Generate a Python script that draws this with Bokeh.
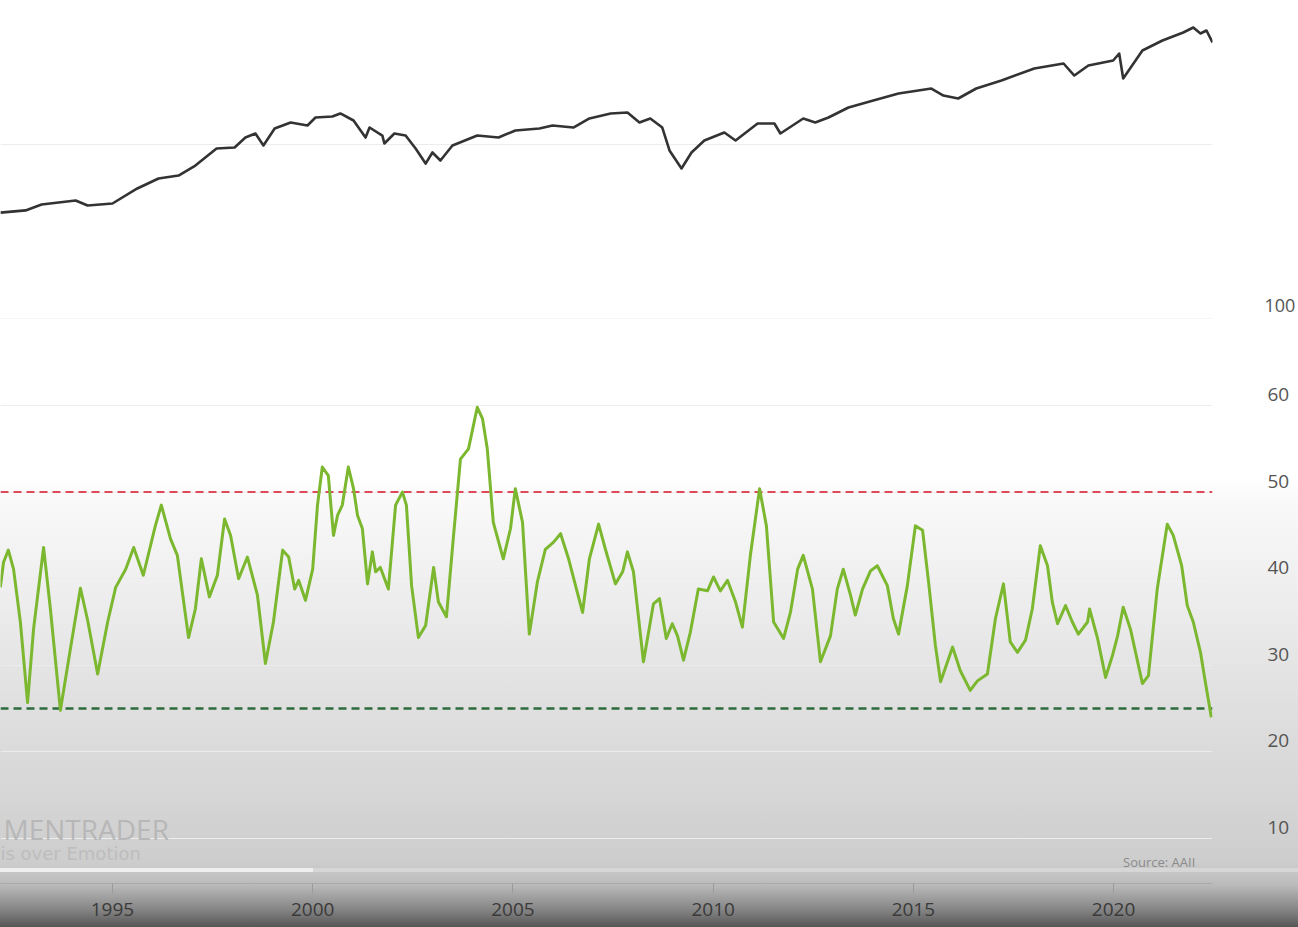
from bokeh.plotting import figure
from bokeh.models import (Range1d, LinearAxis, LogScale, FixedTicker,
                          BasicTickFormatter, Span, Label)
from bokeh.layouts import column
from bokeh.embed import file_html
from bokeh.resources import INLINE

# ---------------- data ----------------
spx_year = [
    1992.20, 1992.83, 1993.23, 1994.08, 1994.38, 1995.00, 1995.62, 1996.15, 1996.65, 1997.07,
    1997.60, 1998.05, 1998.32, 1998.57, 1998.77, 1999.05, 1999.45, 1999.87, 2000.07, 2000.49,
    2000.69, 2001.02, 2001.32, 2001.42, 2001.74, 2001.79, 2002.04, 2002.32, 2002.57, 2002.82,
    2002.99, 2003.19, 2003.49, 2004.11, 2004.64, 2005.06, 2005.66, 2005.99, 2006.51, 2006.91,
    2007.44, 2007.86, 2008.16, 2008.43, 2008.73, 2008.91, 2009.21, 2009.46, 2009.78, 2010.28,
    2010.56, 2011.11, 2011.53, 2011.68, 2012.25, 2012.55, 2012.88, 2013.38, 2014.00, 2014.63,
    2015.45, 2015.75, 2016.12, 2016.57, 2017.20, 2018.02, 2018.75, 2019.02, 2019.37, 2019.99,
    2020.14, 2020.24, 2020.72, 2021.22, 2021.74, 2021.99, 2022.17, 2022.32, 2022.47]
spx_value = [
    406, 418, 452, 477, 446, 458, 559, 638, 663, 757,
    948, 961, 1097, 1157, 987, 1236, 1338, 1286, 1429, 1449,
    1508, 1374, 1097, 1252, 1126, 1013, 1157, 1126, 948, 777,
    900, 809, 987, 1126, 1097, 1204, 1236, 1286, 1252, 1411,
    1508, 1527, 1338, 1411, 1252, 924, 728, 900, 1054, 1172,
    1054, 1320, 1320, 1157, 1411, 1338, 1429, 1632, 1790, 1964,
    2098, 1912, 1838, 2098, 2333, 2734, 2921, 2492, 2845, 3040,
    3334, 2395, 3469, 3960, 4403, 4703, 4344, 4521, 3857]

bull_year = [
    1992.20, 1992.28, 1992.40, 1992.53, 1992.70, 1992.88, 1993.03, 1993.28, 1993.45, 1993.70,
    1993.95, 1994.20, 1994.38, 1994.63, 1994.88, 1995.08, 1995.33, 1995.53, 1995.77, 1996.07,
    1996.22, 1996.45, 1996.62, 1996.90, 1997.07, 1997.22, 1997.42, 1997.62, 1997.80, 1997.95,
    1998.15, 1998.37, 1998.62, 1998.82, 1999.02, 1999.25, 1999.40, 1999.55, 1999.65, 1999.82,
    2000.00, 2000.12, 2000.24, 2000.39, 2000.52, 2000.62, 2000.74, 2000.89, 2001.02, 2001.12,
    2001.24, 2001.37, 2001.49, 2001.57, 2001.69, 2001.89, 2002.07, 2002.24, 2002.34, 2002.47,
    2002.64, 2002.82, 2003.02, 2003.14, 2003.34, 2003.51, 2003.69, 2003.89, 2004.11, 2004.24,
    2004.36, 2004.51, 2004.76, 2004.94, 2005.06, 2005.24, 2005.41, 2005.61, 2005.81, 2006.01,
    2006.19, 2006.39, 2006.61, 2006.74, 2006.91, 2007.14, 2007.31, 2007.56, 2007.74, 2007.86,
    2008.01, 2008.26, 2008.51, 2008.66, 2008.83, 2008.98, 2009.11, 2009.26, 2009.43, 2009.63,
    2009.86, 2010.01, 2010.18, 2010.36, 2010.56, 2010.73, 2010.93, 2011.16, 2011.33, 2011.51,
    2011.76, 2011.93, 2012.11, 2012.25, 2012.48, 2012.68, 2012.93, 2013.10, 2013.25, 2013.43,
    2013.55, 2013.73, 2013.93, 2014.10, 2014.35, 2014.50, 2014.63, 2014.85, 2015.05, 2015.23,
    2015.38, 2015.55, 2015.68, 2015.98, 2016.17, 2016.42, 2016.60, 2016.85, 2017.05, 2017.25,
    2017.42, 2017.60, 2017.80, 2017.97, 2018.17, 2018.35, 2018.47, 2018.60, 2018.80, 2018.97,
    2019.12, 2019.35, 2019.40, 2019.60, 2019.80, 2019.97, 2020.10, 2020.24, 2020.42, 2020.72,
    2020.87, 2021.09, 2021.34, 2021.49, 2021.70, 2021.84, 2021.99, 2022.17, 2022.29, 2022.44]
bull_value = [
    39.0, 41.9, 43.3, 41.1, 35.0, 25.7, 34.2, 43.6, 36.5, 24.8,
    31.9, 38.9, 35.2, 29.0, 35.0, 39.0, 41.1, 43.6, 40.4, 46.1,
    48.5, 44.6, 42.7, 33.2, 36.5, 42.3, 37.9, 40.4, 46.9, 45.0,
    40.0, 42.5, 38.1, 30.2, 35.0, 43.3, 42.5, 38.8, 39.8, 37.5,
    41.1, 48.5, 52.9, 51.9, 45.0, 47.3, 48.5, 52.9, 50.4, 47.3,
    45.8, 39.4, 43.1, 40.8, 41.3, 38.8, 48.5, 50.0, 48.5, 39.2,
    33.2, 34.6, 41.3, 37.3, 35.6, 44.6, 53.8, 55.0, 59.8, 58.5,
    55.0, 46.5, 42.3, 45.8, 50.4, 46.5, 33.6, 39.6, 43.4, 44.2,
    45.2, 42.3, 38.4, 36.1, 42.3, 46.3, 43.4, 39.4, 40.8, 43.1,
    40.8, 30.4, 37.1, 37.7, 33.1, 34.8, 33.4, 30.6, 33.8, 38.8,
    38.6, 40.2, 38.6, 39.8, 37.3, 34.4, 42.7, 50.4, 46.1, 35.0,
    33.1, 36.1, 41.1, 42.7, 38.8, 30.4, 33.4, 38.8, 41.1, 38.1,
    35.8, 38.8, 40.9, 41.5, 39.2, 35.4, 33.6, 39.2, 46.1, 45.6,
    39.6, 32.3, 28.1, 32.1, 29.4, 27.1, 28.2, 29.0, 35.4, 39.4,
    32.7, 31.5, 32.9, 36.5, 43.8, 41.5, 37.3, 34.8, 36.9, 35.0,
    33.6, 35.0, 36.5, 33.1, 28.6, 31.1, 33.4, 36.7, 34.2, 27.9,
    28.8, 38.8, 46.3, 45.0, 41.5, 36.9, 35.0, 31.5, 28.1, 24.0]

upper_threshold = 50
lower_threshold = 25
x_ticks = [1990, 1995, 2000, 2005, 2010, 2015, 2020]
y_ticks = [10, 20, 30, 40, 50, 60]
y_grid = [10, 20, 30, 40, 50, 60, 70]
top_ticks = [100]
top_grid = [100, 1000]

# ---------------- layout constants ----------------
W = 1298
RIGHT = 86
FONT = "Open Sans"
X0, X1 = 1992.204, 2022.47


def style_label_axis(ax, standoff, size="19px"):
    ax.axis_line_color = None
    ax.major_tick_line_color = None
    ax.minor_tick_line_color = None
    ax.major_tick_in = 0
    ax.major_tick_out = 0
    ax.minor_tick_in = 0
    ax.minor_tick_out = 0
    ax.axis_label_standoff = 0
    ax.major_label_standoff = standoff
    ax.major_label_text_font = FONT
    ax.major_label_text_font_size = size
    ax.major_label_text_color = "#555555"


# ---------------- top panel: index (log) ----------------
top = figure(width=W, height=318, x_range=Range1d(X0, X1),
             y_range=Range1d(100, 6724), y_axis_type="log",
             x_axis_location=None, y_axis_location=None,
             output_backend="svg", toolbar_location=None,
             min_border_left=0, min_border_right=RIGHT,
             min_border_top=0, min_border_bottom=0)
top.outline_line_color = None
top.background_fill_color = "#ffffff"
top.border_fill_color = "#ffffff"
top.xgrid.visible = False
top.ygrid.ticker = FixedTicker(ticks=top_grid)
top.ygrid.grid_line_color = "#ececec"
top.ygrid.grid_line_width = 1

top.line(spx_year, spx_value, line_color="#333333", line_width=2.6,
         line_join="round")

# label axis, shifted up slightly like the original labels
top.extra_y_ranges = {"lab": Range1d(100 / 1.19, 6724 / 1.19)}
top.extra_y_scales = {"lab": LogScale()}
tax = LinearAxis(y_range_name="lab", ticker=FixedTicker(ticks=top_ticks),
                 formatter=BasicTickFormatter())
style_label_axis(tax, 52, "18px")
top.add_layout(tax, "right")

# ---------------- bottom panel: sentiment ----------------
gradient = (
    "linear-gradient(to right, #efefef 0px, #efefef 313px, #d6d6d6 313px, #d6d6d6 100%) "
    "0px 550px / 100% 4px no-repeat, "
    "linear-gradient(to bottom, #ffffff 0px, #ffffff 160px, #f9f9f9 182px, #ededed 282px, "
    "#e0e0e0 382px, #d5d5d5 482px, #cdcdcd 544px, #c4c4c4 557px, #bababa 567px, "
    "#a0a0a0 579px, #848484 592px, #565656 609px)"
)

bot = figure(width=W, height=609, x_range=top.x_range,
             y_range=Range1d(4.8, 70.05), y_axis_location=None,
             output_backend="svg", toolbar_location=None,
             min_border_left=0, min_border_right=RIGHT,
             min_border_top=0, min_border_bottom=44,
             styles={"background": gradient})
bot.outline_line_color = None
bot.background_fill_color = None
bot.border_fill_color = None
bot.xgrid.visible = False
bot.ygrid.ticker = FixedTicker(ticks=y_grid)
bot.ygrid.grid_line_color = "#ececec"
bot.ygrid.grid_line_width = 1

bot.add_layout(Span(location=upper_threshold, dimension="width",
                    line_color="#dd4b5a", line_width=2, line_dash="8 5",
                    level="underlay"))
bot.add_layout(Span(location=lower_threshold, dimension="width",
                    line_color="#2e6b3c", line_width=2.5, line_dash="8 5",
                    level="underlay"))

bot.line(bull_year, bull_value, line_color="#7cb82f", line_width=3,
         line_join="round")

xa = bot.xaxis[0]
xa.ticker = FixedTicker(ticks=x_ticks)
xa.axis_line_color = "#a9a9a9"
xa.major_tick_line_color = "#9a9a9a"
xa.major_tick_in = 0
xa.major_tick_out = 10
xa.minor_tick_line_color = None
xa.major_label_standoff = 9
xa.major_label_text_font = FONT
xa.major_label_text_font_size = "19px"
xa.major_label_text_color = "#3a3a3a"

bot.extra_y_ranges = {"lab": Range1d(4.8 - 1.27, 70.05 - 1.27)}
yax = LinearAxis(y_range_name="lab", ticker=FixedTicker(ticks=y_ticks))
style_label_axis(yax, 55)
bot.add_layout(yax, "right")

bot.add_layout(Label(x=1992.28, y=11.04, text="MENTRADER", text_font=FONT,
                     text_font_size="28px", text_color="#b7b7b7",
                     text_baseline="middle", text_align="left"))
bot.add_layout(Label(x=X0, y=8.27, text="is over Emotion", text_font="DejaVu Sans",
                     text_font_size="18px", text_color="#bdbdbd",
                     text_baseline="middle", text_align="left"))
bot.add_layout(Label(x=2022.04, y=7.34, text="Source: AAII", text_font=FONT,
                     text_font_size="13px", text_color="#8a8a8a",
                     text_baseline="middle", text_align="right"))

layout = column(top, bot, spacing=0,
                styles={"position": "absolute", "left": "0px", "top": "0px"})

open("out.html", "w").write(file_html(layout, INLINE))
